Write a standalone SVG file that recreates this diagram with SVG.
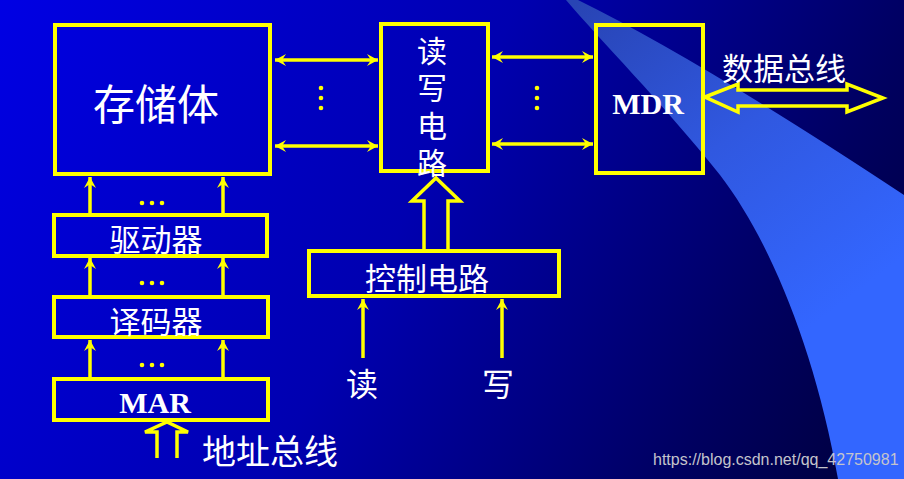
<svg xmlns="http://www.w3.org/2000/svg" width="904" height="479" viewBox="0 0 904 479">
  <defs>
    <linearGradient id="bg" x1="0" y1="0" x2="904" y2="479" gradientUnits="userSpaceOnUse">
      <stop offset="0" stop-color="#0000e4"/>
      <stop offset="0.45" stop-color="#0000b0"/>
      <stop offset="0.8" stop-color="#000060"/>
      <stop offset="1" stop-color="#000038"/>
    </linearGradient>
    <linearGradient id="sw" x1="580" y1="0" x2="820" y2="320" gradientUnits="userSpaceOnUse">
      <stop offset="0" stop-color="#2844b4"/>
      <stop offset="0.5" stop-color="#3058e0"/>
      <stop offset="1" stop-color="#3366ff"/>
    </linearGradient>
    <marker id="ah" viewBox="-11 -7 12 14" refX="0" refY="0" markerWidth="12" markerHeight="14" markerUnits="userSpaceOnUse" orient="auto-start-reverse">
      <path d="M0,0 L-11,-6 L-7,0 L-11,6 Z" fill="#ffff00"/>
    </marker>
    <style>
      .box { fill: none; stroke: #ffff00; stroke-width: 4; }
      .ln { stroke: #ffff00; stroke-width: 3.5; fill: none; }
      .dbl { marker-start: url(#ah); marker-end: url(#ah); }
      .one { marker-end: url(#ah); }
      .hol { fill: none; stroke: #ffff00; stroke-width: 3.5; stroke-linejoin: miter; }
      .dot { fill: #ffff00; }
      .cn { fill: #ffffff; font-family: "Liberation Serif", "Noto Sans CJK SC", serif; text-anchor: middle; }
      .en { fill: #ffffff; font-family: "Liberation Serif", serif; font-weight: bold; text-anchor: middle; }
    </style>
  </defs>

  <rect x="0" y="0" width="904" height="479" fill="url(#bg)"/>
  <path d="M566,0 L578,0 Q700,60 904,195 L904,479 L838,479 C815,350 770,240 720,175 C660,100 600,40 566,0 Z" fill="url(#sw)"/>

  <g id="connectors">
    <line class="ln dbl" x1="275" y1="60" x2="378" y2="60"/>
    <line class="ln dbl" x1="275" y1="146" x2="378" y2="146"/>
    <line class="ln dbl" x1="492" y1="57" x2="593" y2="57"/>
    <line class="ln dbl" x1="492" y1="144" x2="593" y2="144"/>
    <circle class="dot" cx="321" cy="88" r="2.3"/>
    <circle class="dot" cx="321" cy="98" r="2.3"/>
    <circle class="dot" cx="321" cy="108" r="2.3"/>
    <circle class="dot" cx="537" cy="88" r="2.3"/>
    <circle class="dot" cx="537" cy="98" r="2.3"/>
    <circle class="dot" cx="537" cy="108" r="2.3"/>

    <line class="ln one" x1="90" y1="213" x2="90" y2="177"/>
    <line class="ln one" x1="223" y1="213" x2="223" y2="177"/>
    <line class="ln one" x1="90" y1="295" x2="90" y2="258"/>
    <line class="ln one" x1="223" y1="295" x2="223" y2="258"/>
    <line class="ln one" x1="90" y1="377" x2="90" y2="340"/>
    <line class="ln one" x1="223" y1="377" x2="223" y2="340"/>
    <circle class="dot" cx="142" cy="203" r="2.3"/>
    <circle class="dot" cx="152" cy="203" r="2.3"/>
    <circle class="dot" cx="162" cy="203" r="2.3"/>
    <circle class="dot" cx="142" cy="283" r="2.3"/>
    <circle class="dot" cx="152" cy="283" r="2.3"/>
    <circle class="dot" cx="162" cy="283" r="2.3"/>
    <circle class="dot" cx="142" cy="365" r="2.3"/>
    <circle class="dot" cx="152" cy="365" r="2.3"/>
    <circle class="dot" cx="162" cy="365" r="2.3"/>

    <line class="ln one" x1="363" y1="358" x2="363" y2="299"/>
    <line class="ln one" x1="502" y1="358" x2="502" y2="299"/>

    <path class="hol" d="M424,249 L424,201 L412,201 L436,178 L460,201 L448,201 L448,249"/>
    <path class="hol" d="M157,458 L157,432 L145,432 L167,422 L188,432 L177,432 L177,458"/>
    <path class="hol" d="M705,97 L738,84 L738,90 L847,90 L847,84 L883,98 L847,112 L847,106 L738,106 L738,112 Z"/>
  </g>

  <g id="memory">
    <rect class="box" x="55" y="25" width="215" height="149"/>
    <text class="cn" x="156" y="120" font-size="42">存储体</text>
  </g>
  <g id="rwcircuit">
    <rect class="box" x="381" y="24" width="107" height="147"/>
    <text class="cn" x="432" y="62" font-size="30">读</text>
    <text class="cn" x="432" y="99" font-size="30">写</text>
    <text class="cn" x="432" y="137" font-size="30">电</text>
    <text class="cn" x="432" y="174" font-size="30">路</text>
  </g>
  <g id="mdr">
    <rect class="box" x="596" y="25" width="107" height="148"/>
    <text class="en" x="648" y="114" font-size="30">MDR</text>
  </g>
  <g id="databus">
    <text class="cn" x="784" y="80" font-size="31">数据总线</text>
  </g>
  <g id="driver">
    <rect class="box" x="54" y="215" width="213" height="41"/>
    <text class="cn" x="156" y="251" font-size="31">驱动器</text>
  </g>
  <g id="decoder">
    <rect class="box" x="54" y="297" width="214" height="40"/>
    <text class="cn" x="156" y="333" font-size="31">译码器</text>
  </g>
  <g id="mar">
    <rect class="box" x="54" y="379" width="214" height="41"/>
    <text class="en" x="155" y="413" font-size="30">MAR</text>
  </g>
  <g id="addrbus">
    <text class="cn" x="270" y="464" font-size="34">地址总线</text>
  </g>
  <g id="control">
    <rect class="box" x="309" y="251" width="250" height="45"/>
    <text class="cn" x="427" y="290" font-size="31">控制电路</text>
  </g>
  <g id="read">
    <text class="cn" x="362" y="396" font-size="32">读</text>
  </g>
  <g id="write">
    <text class="cn" x="498" y="396" font-size="32">写</text>
  </g>
  <text x="653" y="465" font-family="Liberation Sans, Arial, sans-serif" font-size="16" fill="#c4c4cc">https://blog.csdn.net/qq_42750981</text>
</svg>
